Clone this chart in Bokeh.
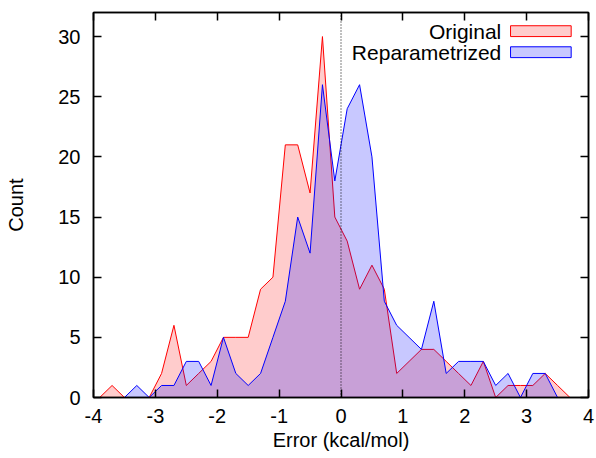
from bokeh.plotting import figure
from bokeh.models import Range1d, LinearAxis, FixedTicker, Span, Label, BoxAnnotation
from bokeh.embed import file_html
from bokeh.resources import INLINE

# ---- data ----
x_original = [-3.9, -3.7, -3.5, -3.3, -3.1, -2.9, -2.7, -2.5, -2.3, -2.1, -1.9, -1.7, -1.5,
              -1.3, -1.1, -0.9, -0.7, -0.5, -0.3, -0.1, 0.1, 0.3, 0.5, 0.7, 0.9, 1.1, 1.3,
              1.5, 1.7, 1.9, 2.1, 2.3, 2.5, 2.7, 2.9, 3.1, 3.3, 3.5, 3.7]
count_original = [0, 1, 0, 0, 0, 2, 6, 1, 2, 3, 5, 5, 5,
                  9, 10, 21, 21, 17, 30, 15, 13, 9, 11, 9, 2, 3, 4,
                  4, 3, 2, 1, 3, 0, 1, 1, 1, 2, 1, 0]
x_repar = [-3.5, -3.3, -3.1, -2.9, -2.7, -2.5, -2.3, -2.1, -1.9, -1.7, -1.5, -1.3,
           -1.1, -0.9, -0.7, -0.5, -0.3, -0.1, 0.1, 0.3, 0.5, 0.7, 0.9, 1.1, 1.3,
           1.5, 1.7, 1.9, 2.1, 2.3, 2.5, 2.7, 2.9, 3.1, 3.3, 3.5]
count_repar = [0, 1, 0, 1, 1, 3, 3, 1, 5, 2, 1, 2,
               5, 8, 15, 12, 26, 18, 24, 26, 20, 8, 6, 5, 4,
               8, 2, 3, 3, 3, 1, 2, 0, 2, 2, 0]
x_ticks = [-4, -3, -2, -1, 0, 1, 2, 3, 4]
y_ticks = [0, 5, 10, 15, 20, 25, 30]
series_names = ["Original", "Reparametrized"]

FONT = "Liberation Sans"
FS = "20px"
LEGEND_FS = "21px"
RED_FILL = "#ffcccc"
BLUE_FILL = "#c8c8ff"

p = figure(width=596, height=458, output_backend="svg", toolbar_location=None,
           x_range=Range1d(-4, 4), y_range=Range1d(0, 32),
           min_border_left=93, min_border_right=8, min_border_top=12, min_border_bottom=61)
p.xgrid.visible = False
p.ygrid.visible = False
p.outline_line_color = "black"
p.outline_line_width = 1.5
p.background_fill_color = "white"
p.border_fill_color = "white"

# series
p.varea(x=x_original, y1=0, y2=count_original, fill_color="red", fill_alpha=0.2)
p.line(x=x_original, y=count_original, line_color="red", line_width=1)
p.varea(x=x_repar, y1=0, y2=count_repar, fill_color="blue", fill_alpha=0.216)
p.line(x=x_repar, y=count_repar, line_color="blue", line_width=1)

p.add_layout(Span(location=0, dimension="height", line_color="black",
                  line_dash="1 2", line_width=1))

def style_axis(ax):
    ax.major_tick_in = 8
    ax.major_tick_out = 0
    ax.minor_tick_in = 0
    ax.minor_tick_out = 0
    ax.axis_line_color = "black"
    ax.axis_line_width = 1.5
    ax.major_tick_line_color = "black"
    ax.major_tick_line_width = 1.5
    ax.major_label_text_font = FONT
    ax.major_label_text_font_size = FS
    ax.major_label_text_color = "black"
    ax.axis_label_text_font = FONT
    ax.axis_label_text_font_size = FS
    ax.axis_label_text_font_style = "normal"
    ax.axis_label_text_color = "black"

p.xaxis.ticker = FixedTicker(ticks=x_ticks)
p.yaxis.ticker = FixedTicker(ticks=y_ticks)
p.xaxis.major_label_overrides = {t: str(t) for t in x_ticks}
p.yaxis.major_label_overrides = {t: str(t) for t in y_ticks}
p.xaxis.axis_label = "Error (kcal/mol)"
p.yaxis.axis_label = "Count"
for ax in p.xaxis + p.yaxis:
    style_axis(ax)
p.xaxis.major_label_standoff = 11
p.yaxis.major_label_standoff = 13
p.xaxis.axis_label_standoff = 3
p.yaxis.axis_label_standoff = 28

top_ax = LinearAxis(ticker=FixedTicker(ticks=x_ticks))
style_axis(top_ax)
top_ax.major_label_overrides = {t: "" for t in x_ticks}
top_ax.major_label_standoff = 0
right_ax = LinearAxis(ticker=FixedTicker(ticks=y_ticks))
style_axis(right_ax)
right_ax.major_label_overrides = {t: "" for t in y_ticks}
right_ax.major_label_standoff = 0
p.add_layout(top_ax, "above")
p.add_layout(right_ax, "right")

# legend (manual: text right-aligned, sample box to its right)
legend_text_x = 2.59
legend_rows_y = [30.45, 28.7]
box_left, box_right = 2.74, 3.72
box_half_h = 0.45
fills = [RED_FILL, BLUE_FILL]
edges = ["red", "blue"]
for name, yy, fc, ec in zip(series_names, legend_rows_y, fills, edges):
    p.add_layout(Label(x=legend_text_x, y=yy, text=name, text_align="right",
                       text_baseline="middle", text_font=FONT, text_font_size=LEGEND_FS,
                       text_color="black"))
    p.add_layout(BoxAnnotation(left=box_left, right=box_right, bottom=yy - box_half_h,
                               top=yy + box_half_h, fill_color=fc, fill_alpha=1.0,
                               line_color=ec, line_alpha=1.0, line_width=1))

open("out.html", "w").write(file_html(p, INLINE))
